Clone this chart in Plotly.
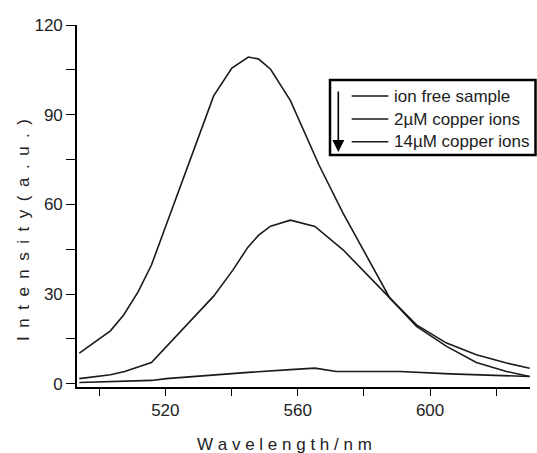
import plotly.graph_objects as go

# ---- data ----
wl_free = [494.0, 503.4, 507.4, 511.8, 515.8, 534.6, 540.1, 545.1, 548.2, 551.8,
           557.8, 566.5, 573.7, 587.8, 595.9, 605.0, 614.0, 623.1, 630.1]
int_free = [10.2, 17.7, 23.0, 30.8, 39.7, 96.3, 105.6, 109.3, 108.6, 105.2,
            94.7, 73.0, 57.1, 28.7, 19.7, 13.6, 9.7, 6.9, 5.2]

wl_2um = [494.0, 503.4, 507.7, 511.8, 515.8, 534.6, 540.4, 544.9, 548.2, 551.8,
          557.8, 565.2, 573.7, 587.8, 595.9, 605.0, 614.0, 623.1, 630.1]
int_2um = [1.7, 3.0, 4.1, 5.6, 7.1, 29.3, 38.0, 45.6, 49.7, 52.7,
           54.7, 52.6, 44.8, 28.7, 19.2, 12.5, 7.1, 4.1, 2.4]

wl_14um = [494.0, 515.8, 520.3, 534.6, 545.1, 557.8, 565.2, 571.7, 590.9, 606.0, 630.1]
int_14um = [0.4, 1.1, 1.7, 3.0, 3.8, 4.7, 5.2, 4.1, 4.1, 3.3, 2.4]

series_names = ["ion free sample", "2µM copper ions", "14µM copper ions"]
x_ticks = [520, 560, 600]
y_ticks = [0, 30, 60, 90, 120]

# ---- layout geometry ----
W, H = 537, 453
ML, MR, MT, MB = 77, 7, 25, 66
PW, PH = W - ML - MR, H - MT - MB
FONT = "Arial, Liberation Sans, sans-serif"
INK = "#1a1a1a"


def px(gx):
    return (gx - ML) / PW


def py(gy):
    return 1 - (gy - MT) / PH


fig = go.Figure()
for xs, ys, nm in [(wl_free, int_free, series_names[0]),
                   (wl_2um, int_2um, series_names[1]),
                   (wl_14um, int_14um, series_names[2])]:
    fig.add_trace(go.Scatter(x=xs, y=ys, mode="lines", name=nm,
                             line=dict(color=INK, width=1.6), showlegend=False))

axis_common = dict(showline=True, linecolor="black", linewidth=1.6, ticks="outside",
                   tickcolor="black", tickwidth=1.4, showgrid=False, zeroline=False,
                   mirror=False, tickfont=dict(family=FONT, size=17, color="#222"))

fig.update_xaxes(range=[493.3, 630.2], tickvals=x_ticks, ticklen=7,
                 minor=dict(tick0=500, dtick=20, ticks="outside", ticklen=7,
                            tickcolor="black", tickwidth=1.4),
                 **axis_common)
fig.update_yaxes(range=[-1.1, 120], tickvals=y_ticks, ticklen=9,
                 minor=dict(tick0=0, dtick=15, ticks="outside", ticklen=9,
                            tickcolor="black", tickwidth=1.4),
                 **axis_common)

shapes = []
annotations = []
# legend box
shapes.append(dict(type="rect", xref="paper", yref="paper",
                   x0=px(330), x1=px(535.5), y0=py(155), y1=py(80),
                   line=dict(color="black", width=2.5), fillcolor="white", layer="above"))
rows = [96, 119, 141.7]
for r, nm in zip(rows, series_names):
    shapes.append(dict(type="line", xref="paper", yref="paper",
                       x0=px(351.7), x1=px(388.3), y0=py(r), y1=py(r),
                       line=dict(color=INK, width=1.4), layer="above"))
    annotations.append(dict(xref="paper", yref="paper", x=px(391.7), y=py(r),
                            xanchor="left", yanchor="middle", showarrow=False,
                            text=nm, font=dict(family=FONT, size=17, color="#222")))
# arrow
annotations.append(dict(xref="paper", yref="paper", x=px(338.3), y=py(152),
                        ax=0, ay=-62, showarrow=True, arrowhead=2, arrowsize=1.5,
                        arrowwidth=1.6, arrowcolor="black", text=""))
# axis titles
annotations.append(dict(xref="paper", yref="paper", x=px(284), y=py(444),
                        xanchor="center", yanchor="middle", showarrow=False,
                        text=" ".join("Wavelength/nm"),
                        font=dict(family=FONT, size=17, color="#222")))
annotations.append(dict(xref="paper", yref="paper", x=px(23), y=py(230),
                        xanchor="center", yanchor="middle", showarrow=False,
                        textangle=-90, text="\u2002".join("Intensity(a.u.)"),
                        font=dict(family=FONT, size=17, color="#222")))

fig.update_layout(width=W, height=H, margin=dict(l=ML, r=MR, t=MT, b=MB),
                  paper_bgcolor="white", plot_bgcolor="white",
                  shapes=shapes, annotations=annotations, showlegend=False)

fig.write_html("out.html")
